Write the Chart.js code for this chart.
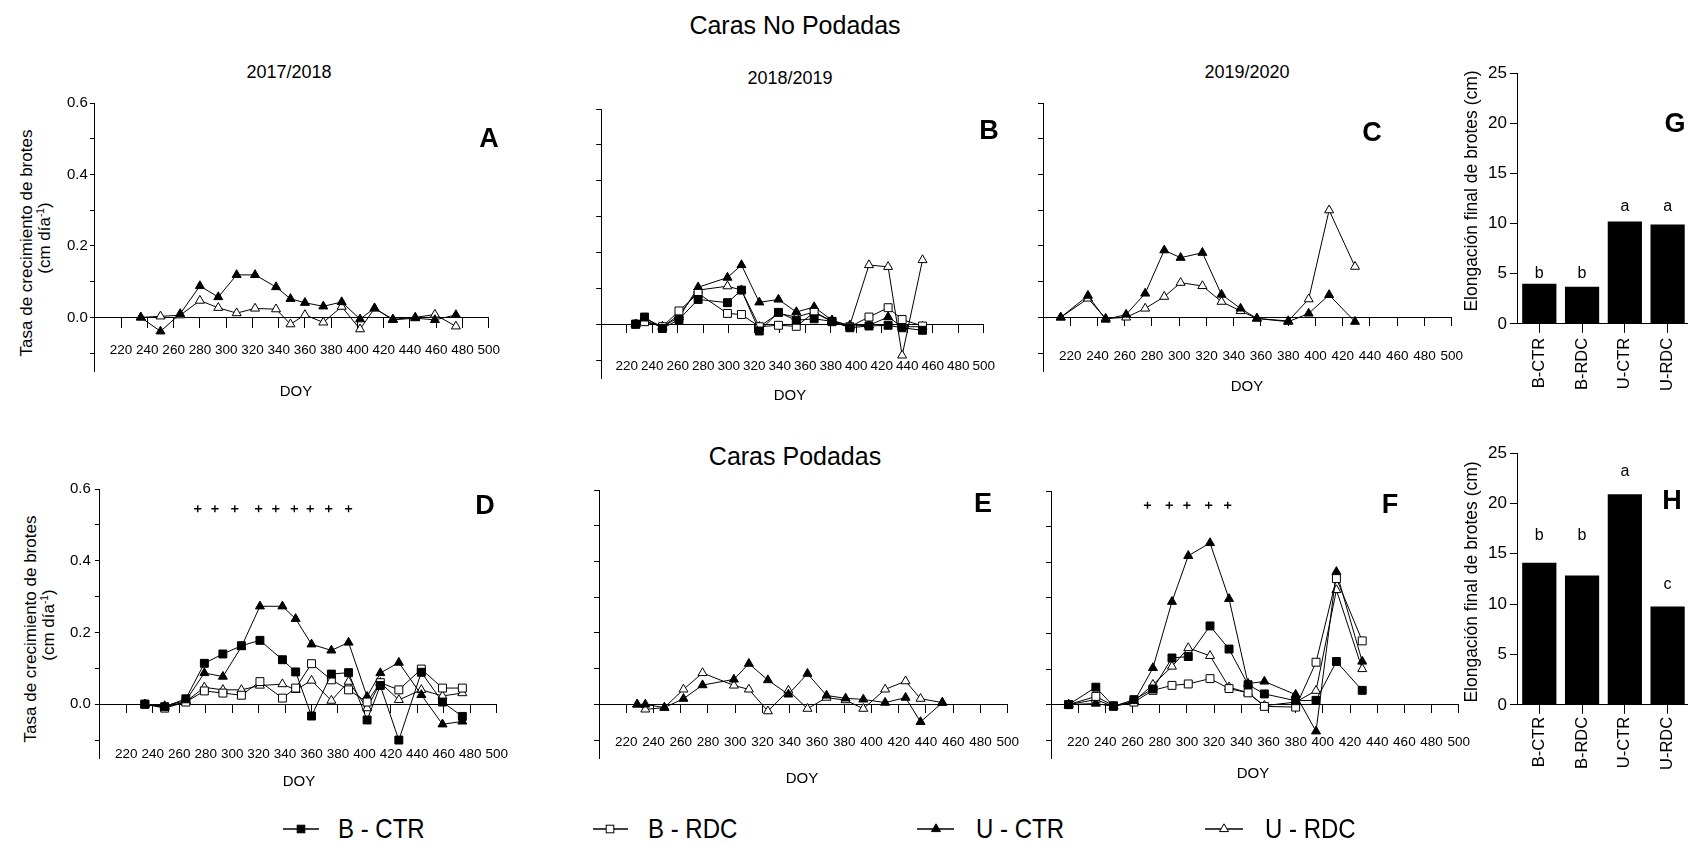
<!DOCTYPE html>
<html>
<head>
<meta charset="utf-8">
<script src="https://cdn.jsdelivr.net/npm/chart.js@4.4.1/dist/chart.umd.min.js"></script>
<style>
  html, body { margin: 0; padding: 0; background: #fff; overflow: hidden; }
  #root { position: relative; width: 1688px; height: 843px; overflow: hidden; background: #fff;
          font-family: "Liberation Sans", Arial, sans-serif; color: #000; }
  #root canvas { position: absolute; }
  .t { position: absolute; white-space: nowrap; line-height: 1; transform: translate(-50%, -50%); }
  .r { transform: translate(-50%, -50%) rotate(-90deg); }
  .lbl { font-weight: bold; font-size: 27px; }
  .lg { position: absolute; }
  .lgt { position: absolute; font-size: 24px; line-height: 24px; white-space: nowrap; transform: scaleY(1.12); }
  sup { font-size: 0.6em; vertical-align: 0.55em; line-height: 0; }
</style>
</head>
<body>
<div id="root"></div>
<script>
// ---------------- DATA ----------------
const xTickVals = [220, 240, 260, 280, 300, 320, 340, 360, 380, 400, 420, 440, 460, 480, 500];
const xTickLabels = ['220','240','260','280','300','320','340','360','380','400','420','440','460','480','500'];
const yTickVals = [-0.1, 0, 0.1, 0.2, 0.3, 0.4, 0.5, 0.6];
const yTickLabels = ['', '0.0', '', '0.2', '', '0.4', '', '0.6'];

// Panel A (2017/2018, no podadas)
const doyA   = [235, 250, 265, 280, 294, 308, 322, 338, 349, 360, 374, 388, 402, 413, 427, 444, 459, 475];
const uCtrA  = [0, -0.039, 0.010, 0.088, 0.057, 0.119, 0.119, 0.085, 0.052, 0.041, 0.031, 0.043, -0.005, 0.026, -0.007, -0.002, -0.007, 0.007];
const uRdcA  = [0, 0.003, 0.006, 0.047, 0.027, 0.012, 0.025, 0.023, -0.019, 0.007, -0.014, 0.030, -0.033, 0.025, -0.005, 0.000, 0.008, -0.025];

// Panel B (2018/2019, no podadas)
const doyB   = [227, 234, 248, 261, 276, 299, 310, 324, 339, 353, 367, 381, 395, 410, 425, 436, 452];
const bCtrB  = [0, 0.020, -0.012, 0.013, 0.069, 0.060, 0.095, -0.019, 0.033, 0.011, 0.015, 0.008, -0.010, -0.005, -0.003, -0.010, -0.017];
const bRdcB  = [0, 0.007, -0.007, 0.037, 0.086, 0.030, 0.027, -0.007, -0.003, -0.006, 0.033, 0.007, -0.007, 0.020, 0.046, 0.013, -0.005];
const uCtrB  = [0, 0.016, -0.007, 0.019, 0.103, 0.130, 0.165, 0.061, 0.069, 0.034, 0.048, 0.011, -0.005, -0.003, 0.020, -0.007, -0.007];
const uRdcB  = [0, 0.010, -0.007, 0.025, 0.095, 0.106, 0.095, -0.007, 0.030, 0.020, 0.034, 0.009, -0.003, 0.165, 0.160, -0.087, 0.179];

// Panel C (2019/2020, no podadas)
const doyC   = [213, 233, 246, 261, 275, 289, 301, 317, 331, 345, 357, 380, 395, 410, 429];
const uCtrC  = [0, 0.061, -0.006, 0.008, 0.067, 0.188, 0.167, 0.181, 0.064, 0.025, -0.003, -0.012, 0.011, 0.063, -0.012];
const uRdcC  = [0, 0.053, -0.003, 0.000, 0.025, 0.058, 0.097, 0.088, 0.044, 0.018, -0.003, -0.010, 0.051, 0.300, 0.142];

// Panel D (2017/2018, podadas)
const doyD   = [234, 249, 265, 279, 293, 307, 321, 338, 348, 360, 375, 388, 402, 412, 426, 443, 459, 474];
const bCtrD  = [0, -0.007, 0.015, 0.114, 0.140, 0.163, 0.178, 0.124, 0.090, -0.033, 0.084, 0.088, -0.044, 0.052, -0.100, 0.089, 0.006, -0.034];
const bRdcD  = [0, -0.011, 0.006, 0.037, 0.031, 0.025, 0.063, 0.017, 0.045, 0.113, 0.068, 0.040, 0.006, 0.060, 0.040, 0.098, 0.045, 0.045];
const uCtrD  = [0, -0.005, 0.010, 0.087, 0.077, 0.160, 0.273, 0.273, 0.238, 0.167, 0.150, 0.172, 0.021, 0.087, 0.116, 0.026, -0.056, -0.048];
const uRdcD  = [0, -0.008, 0.007, 0.047, 0.040, 0.040, 0.052, 0.056, 0.040, 0.066, 0.010, 0.063, -0.011, 0.060, 0.012, 0.040, 0.023, 0.031];
const sigD   = [274, 287, 302, 320, 333, 347, 359, 373, 388];
const sigYD  = 0.545;

// Panel E (2018/2019, podadas)
const doyE   = [228, 234, 248, 262, 276, 299, 310, 324, 339, 353, 367, 381, 394, 410, 425, 436, 452];
const uCtrE  = [0, 0, -0.009, 0.016, 0.054, 0.070, 0.114, 0.068, 0.028, 0.086, 0.025, 0.017, 0.014, 0.005, 0.019, -0.049, 0.005];
const uRdcE  = [0, -0.014, -0.009, 0.042, 0.088, 0.053, 0.042, -0.019, 0.039, -0.012, 0.019, 0.012, -0.012, 0.042, 0.065, 0.016, 0.005];

// Panel F (2019/2020, podadas)
const doyF   = [213, 233, 246, 261, 275, 289, 301, 317, 331, 345, 357, 380, 395, 410, 429];
const bCtrF  = [0, 0.049, -0.005, 0.014, 0.044, 0.131, 0.135, 0.221, 0.156, 0.056, 0.030, 0.011, 0.012, 0.121, 0.040];
const bRdcF  = [0, 0.023, -0.003, 0.007, 0.040, 0.054, 0.058, 0.073, 0.045, 0.033, -0.005, -0.007, 0.119, 0.354, 0.179];
const uCtrF  = [0, 0.003, -0.005, 0.007, 0.103, 0.289, 0.418, 0.454, 0.297, 0.059, 0.065, 0.028, -0.075, 0.373, 0.121];
const uRdcF  = [0, 0.014, -0.005, 0.009, 0.056, 0.107, 0.159, 0.137, 0.049, 0.033, -0.003, 0.007, 0.039, 0.322, 0.100];
const sigF   = [271, 287, 300, 316, 330];
const sigYF  = 0.56;

// Bar panels G, H
const barCats    = ['B-CTR', 'B-RDC', 'U-CTR', 'U-RDC'];
const barYTicks  = [0, 5, 10, 15, 20, 25];
const barG       = [4.0, 3.7, 10.2, 9.9];
const lettersG   = ['b', 'b', 'a', 'a'];
const letterYG   = [4.55, 4.55, 11.2, 11.2];
const barH       = [14.1, 12.85, 20.9, 9.75];
const lettersH   = ['b', 'b', 'a', 'c'];
const letterYH   = [16.35, 16.35, 22.7, 11.45];

// ---------------- RENDERING ----------------
const FONT = '"Liberation Sans", Arial, sans-serif';
Chart.defaults.font.family = FONT;
Chart.defaults.color = '#000';
const root = document.getElementById('root');

const STYLES = {
  bctr: { pointStyle: 'rect', pointRadius: 5.6, pointBackgroundColor: '#000' },
  brdc: { pointStyle: 'rect', pointRadius: 5.6, pointBackgroundColor: '#fff' },
  uctr: { pointStyle: 'triangle', pointRadius: 5.2, pointBackgroundColor: '#000' },
  urdc: { pointStyle: 'triangle', pointRadius: 5.2, pointBackgroundColor: '#fff' }
};

function series(doy, vals, kind) {
  return Object.assign({
    data: doy.map((d, i) => ({ x: d, y: vals[i] })),
    borderColor: '#000', borderWidth: 1, pointBorderColor: '#000', pointBorderWidth: 1,
    showLine: true, fill: false, tension: 0
  }, STYLES[kind]);
}
function sigSeries(doy, yv) {
  return {
    data: doy.map(d => ({ x: d, y: yv })), showLine: false,
    pointStyle: 'cross', pointRadius: 3.6, pointBorderColor: '#000', pointBorderWidth: 1.4, borderColor: '#000'
  };
}

function place(target, build) {
  const W0 = target.r - target.l + 200, H0 = target.b - target.t + 200;
  const c0 = document.createElement('canvas');
  c0.width = W0; c0.height = H0; c0.style.width = W0 + 'px'; c0.style.height = H0 + 'px';
  c0.style.left = '0px'; c0.style.top = '0px';
  root.appendChild(c0);
  const ch0 = new Chart(c0, build());
  const ca = ch0.chartArea;
  const pl = ca.left, pt = ca.top, pr = W0 - ca.right, pb = H0 - ca.bottom;
  ch0.destroy(); c0.remove();
  const W = Math.round(target.r - target.l + pl + pr), H = Math.round(target.b - target.t + pt + pb);
  const c = document.createElement('canvas');
  c.width = W; c.height = H; c.style.width = W + 'px'; c.style.height = H + 'px';
  c.style.left = Math.round(target.l - pl) + 'px'; c.style.top = Math.round(target.t - pt) + 'px';
  root.appendChild(c);
  return new Chart(c, build());
}

function lineConfig(datasets, p) {
  return () => ({
    type: 'line',
    data: { datasets },
    options: {
      responsive: false, animation: false, events: [],
      layout: { padding: { left: 4, right: 20, top: 14, bottom: 50 } },
      plugins: { legend: { display: false }, tooltip: { enabled: false } },
      scales: {
        x: {
          type: 'linear', min: 200, max: 500, position: { y: 0 },
          afterBuildTicks: s => { s.ticks = xTickVals.map(v => ({ value: v })); },
          ticks: { autoSkip: false, maxRotation: 0, minRotation: 0, padding: p.xPad,
                   font: { size: 13.5 }, color: '#000', callback: (v, i) => xTickLabels[i] },
          grid: { drawOnChartArea: false, drawTicks: true, tickLength: p.xTick, color: '#000', lineWidth: 1 },
          border: { display: true, color: '#000', width: 1 }
        },
        y: {
          type: 'linear', min: -0.15, max: 0.6, position: 'left',
          afterBuildTicks: s => { s.ticks = yTickVals.map(v => ({ value: v })); },
          ticks: { display: p.yLabels, autoSkip: false, padding: p.yPad || 3, font: { size: 15 }, color: '#000',
                   callback: (v, i) => yTickLabels[i] },
          grid: { drawOnChartArea: false, drawTicks: true, tickLength: 5, color: '#000', lineWidth: 1 },
          border: { display: true, color: '#000', width: 1 }
        }
      }
    }
  });
}

function letterPlugin(letters, ys) {
  return {
    id: 'letters',
    afterDatasetsDraw(chart) {
      const { ctx, scales: { x, y } } = chart;
      ctx.save();
      ctx.font = '16px ' + FONT; ctx.fillStyle = '#000';
      ctx.textAlign = 'center'; ctx.textBaseline = 'alphabetic';
      letters.forEach((t, i) => ctx.fillText(t, x.getPixelForValue(i), y.getPixelForValue(ys[i])));
      ctx.restore();
    }
  };
}

function barConfig(vals, letters, ys, xPad) {
  return () => ({
    type: 'bar',
    data: { labels: barCats, datasets: [{ data: vals, backgroundColor: '#000', borderWidth: 0,
                                          barPercentage: 0.8, categoryPercentage: 1 }] },
    options: {
      responsive: false, animation: false, events: [],
      layout: { padding: { left: 4, right: 4, top: 14, bottom: 6 } },
      plugins: { legend: { display: false }, tooltip: { enabled: false } },
      scales: {
        x: { grid: { offset: false, drawOnChartArea: false, drawTicks: true, tickLength: 9, color: '#000' },
             border: { display: true, color: '#000', width: 1 },
             ticks: { minRotation: 90, maxRotation: 90, autoSkip: false, padding: xPad, font: { size: 16.5 }, color: '#000' } },
        y: { min: 0, max: 25,
             afterBuildTicks: s => { s.ticks = barYTicks.map(v => ({ value: v })); },
             ticks: { padding: 3, font: { size: 17 }, color: '#000' },
             grid: { drawOnChartArea: false, drawTicks: true, tickLength: 8, color: '#000' },
             border: { display: true, color: '#000', width: 1 } }
      }
    },
    plugins: [letterPlugin(letters, ys)]
  });
}

// Line panels
place({ l: 95, r: 489, t: 103, b: 371 }, lineConfig([
  series(doyA, uCtrA, 'uctr'), series(doyA, uRdcA, 'urdc')
], { xPad: 15, xTick: 10, yLabels: true, yPad: 2 }));

place({ l: 599, r: 984, t: 109, b: 378 }, lineConfig([
  series(doyB, bCtrB, 'bctr'), series(doyB, bRdcB, 'brdc'), series(doyB, uCtrB, 'uctr'), series(doyB, uRdcB, 'urdc')
], { xPad: 26, xTick: 8, yLabels: false }));

place({ l: 1043, r: 1452, t: 103, b: 371 }, lineConfig([
  series(doyC, uCtrC, 'uctr'), series(doyC, uRdcC, 'urdc')
], { xPad: 23, xTick: 8, yLabels: false }));

place({ l: 100, r: 497, t: 489, b: 758 }, lineConfig([
  sigSeries(sigD, sigYD),
  series(doyD, bCtrD, 'bctr'), series(doyD, bRdcD, 'brdc'), series(doyD, uCtrD, 'uctr'), series(doyD, uRdcD, 'urdc')
], { xPad: 34, xTick: 8, yLabels: true, yPad: 4 }));

place({ l: 599, r: 1008, t: 490, b: 758 }, lineConfig([
  series(doyE, uCtrE, 'uctr'), series(doyE, uRdcE, 'urdc')
], { xPad: 22, xTick: 8, yLabels: false }));

place({ l: 1051, r: 1459, t: 491, b: 758 }, lineConfig([
  sigSeries(sigF, sigYF),
  series(doyF, bCtrF, 'bctr'), series(doyF, bRdcF, 'brdc'), series(doyF, uCtrF, 'uctr'), series(doyF, uRdcF, 'urdc')
], { xPad: 22, xTick: 8, yLabels: false }));

// Bar panels
place({ l: 1518, r: 1689, t: 73, b: 324 }, barConfig(barG, lettersG, letterYG, 5));
place({ l: 1518, r: 1689, t: 453, b: 705 }, barConfig(barH, lettersH, letterYH, 3));

// ---------------- TEXT ----------------
function text(html, cx, cy, size, cls) {
  const d = document.createElement('div');
  d.className = 't' + (cls ? ' ' + cls : '');
  d.style.left = cx + 'px'; d.style.top = cy + 'px';
  if (size) d.style.fontSize = size + 'px';
  d.innerHTML = html;
  root.appendChild(d);
  return d;
}
text('Caras No Podadas', 795, 24.5, 25);
text('Caras Podadas', 795, 455.5, 25);
text('2017/2018', 289, 71.5, 18);
text('2018/2019', 790, 77.5, 18);
text('2019/2020', 1247, 71.5, 18);

text('DOY', 296, 390, 15); text('DOY', 790, 394, 15); text('DOY', 1247, 384.5, 15);
text('DOY', 299, 780, 15); text('DOY', 802, 777, 15); text('DOY', 1253, 772, 15);

text('Tasa de crecimiento de brotes', 26, 242.5, 17, 'r');
text('(cm día<sup>-1</sup>)', 44, 237.5, 17, 'r');
text('Tasa de crecimiento de brotes', 30, 629, 17, 'r');
text('(cm día<sup>-1</sup>)', 47.5, 625, 17, 'r');
text('Elongación final de brotes (cm)', 1472, 191, 17.5, 'r');
text('Elongación final de brotes (cm)', 1472, 581.5, 17.5, 'r');

text('A', 489, 138, null, 'lbl'); text('B', 989, 129.5, null, 'lbl'); text('C', 1372, 132, null, 'lbl');
text('G', 1675, 123, null, 'lbl'); text('D', 485, 505, null, 'lbl'); text('E', 983, 503, null, 'lbl');
text('F', 1390, 503.5, null, 'lbl'); text('H', 1672, 500, null, 'lbl');

// ---------------- LEGEND ----------------
const legendNames = ['B - CTR', 'B - RDC', 'U - CTR', 'U - RDC'];
const legendKinds = ['bctr', 'brdc', 'uctr', 'urdc'];
const legendPos = [[283, 319, 301, 338], [593, 628, 610, 648], [917, 954, 936, 976], [1205, 1243, 1224, 1265]];
const LY = 829;
legendNames.forEach((name, i) => {
  const [x0, x1, mx, tx] = legendPos[i];
  const w = x1 - x0, cx = mx - x0;
  let mark;
  const fill = (legendKinds[i] === 'bctr' || legendKinds[i] === 'uctr') ? '#000' : '#fff';
  if (legendKinds[i][0] === 'b') {
    mark = `<rect x="${cx - 3.8}" y="${8 - 3.8}" width="7.6" height="7.6" fill="${fill}" stroke="#000" stroke-width="1"/>`;
  } else {
    mark = `<polygon points="${cx},${8 - 5.2} ${cx + 4.5},${8 + 2.6} ${cx - 4.5},${8 + 2.6}" fill="${fill}" stroke="#000" stroke-width="1"/>`;
  }
  const s = document.createElement('div');
  s.className = 'lg';
  s.style.left = x0 + 'px'; s.style.top = (LY - 8) + 'px';
  s.innerHTML = `<svg width="${w}" height="16" xmlns="http://www.w3.org/2000/svg"><line x1="0" y1="8" x2="${w}" y2="8" stroke="#000" stroke-width="1.3"/>${mark}</svg>`;
  root.appendChild(s);
  const t = document.createElement('div');
  t.className = 'lgt';
  t.style.left = tx + 'px'; t.style.top = (LY - 12) + 'px';
  t.textContent = name;
  root.appendChild(t);
});
</script>
</body>
</html>
